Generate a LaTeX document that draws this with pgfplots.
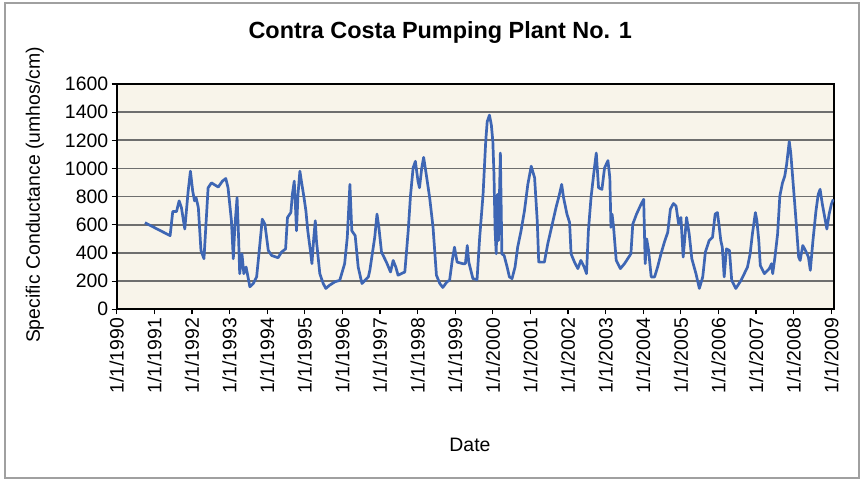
\documentclass[border=0pt]{standalone}
\usepackage{pgfplots}
\pgfplotsset{compat=1.18}
\usepackage{pgfplotstable}
\usepackage{fontspec}
\setmainfont{Liberation Sans}
\definecolor{plotbg}{RGB}{248,244,234}
\definecolor{lineblue}{RGB}{62,102,180}
\definecolor{gridgray}{RGB}{110,110,110}
\definecolor{framegray}{RGB}{160,160,160}
\pgfplotstableread{
year val
1990.75 615
1991.42 523
1991.49 694
1991.59 694
1991.66 770
1991.72 723
1991.81 570
1991.90 840
1991.96 981
1992.02 840
1992.07 770
1992.11 793
1992.17 723
1992.24 418
1992.32 359
1992.43 863
1992.52 898
1992.70 868
1992.81 910
1992.90 929
1992.96 863
1993.05 629
1993.10 359
1993.14 582
1993.20 793
1993.24 511
1993.27 253
1993.33 394
1993.38 253
1993.44 300
1993.54 160
1993.63 183
1993.72 230
1993.79 418
1993.87 640
1993.94 605
1994.03 418
1994.12 382
1994.29 366
1994.38 406
1994.49 429
1994.54 652
1994.63 687
1994.67 816
1994.72 910
1994.75 746
1994.78 558
1994.82 816
1994.87 981
1994.91 910
1994.98 793
1995.03 699
1995.08 558
1995.16 394
1995.19 324
1995.24 511
1995.28 629
1995.31 488
1995.40 253
1995.49 183
1995.56 148
1995.66 171
1995.80 195
1995.93 206
1996.06 324
1996.13 511
1996.20 887
1996.25 558
1996.34 523
1996.42 300
1996.52 183
1996.69 230
1996.73 277
1996.86 511
1996.92 676
1996.97 582
1997.04 406
1997.17 335
1997.28 265
1997.35 347
1997.42 300
1997.48 242
1997.66 265
1997.75 558
1997.81 805
1997.88 1004
1997.94 1051
1998.01 910
1998.05 863
1998.11 1004
1998.16 1079
1998.23 957
1998.32 793
1998.41 582
1998.50 242
1998.59 183
1998.67 155
1998.78 195
1998.85 206
1998.92 347
1998.98 441
1999.05 335
1999.20 324
1999.27 324
1999.32 453
1999.36 335
1999.47 218
1999.58 211
1999.65 511
1999.74 816
1999.81 1192
1999.85 1333
1999.91 1379
1999.96 1309
2000.00 1192
2000.03 957
2000.06 558
2000.09 394
2000.12 816
2000.15 488
2000.20 1110
2000.24 394
2000.30 382
2000.38 300
2000.44 230
2000.51 218
2000.59 300
2000.66 441
2000.75 558
2000.84 699
2000.93 887
2001.02 1016
2001.11 934
2001.18 629
2001.22 335
2001.37 335
2001.46 465
2001.55 570
2001.68 723
2001.77 816
2001.83 887
2001.88 793
2001.97 676
2002.04 617
2002.08 394
2002.17 335
2002.26 289
2002.34 347
2002.43 300
2002.49 253
2002.54 558
2002.61 793
2002.70 1004
2002.75 1110
2002.81 863
2002.90 852
2002.97 1004
2003.06 1056
2003.11 934
2003.14 582
2003.17 676
2003.21 582
2003.28 347
2003.39 289
2003.50 324
2003.67 394
2003.72 605
2003.82 676
2003.94 746
2004.01 781
2004.05 324
2004.09 500
2004.14 418
2004.21 230
2004.30 230
2004.38 300
2004.47 394
2004.56 476
2004.65 547
2004.72 711
2004.80 751
2004.87 734
2004.94 605
2005.00 652
2005.06 371
2005.15 652
2005.22 535
2005.29 359
2005.40 253
2005.49 148
2005.58 230
2005.65 406
2005.75 488
2005.84 511
2005.91 676
2005.97 687
2006.01 605
2006.06 488
2006.10 441
2006.15 230
2006.21 429
2006.29 418
2006.35 206
2006.46 148
2006.60 206
2006.77 300
2006.84 394
2006.90 535
2006.98 687
2007.02 629
2007.07 488
2007.11 312
2007.22 253
2007.35 289
2007.41 324
2007.44 253
2007.50 371
2007.57 535
2007.63 805
2007.70 898
2007.76 945
2007.81 1028
2007.88 1192
2007.92 1110
2008.02 770
2008.06 629
2008.13 371
2008.17 347
2008.24 453
2008.31 418
2008.39 371
2008.44 277
2008.51 488
2008.59 699
2008.65 816
2008.70 852
2008.76 746
2008.84 629
2008.88 570
2008.94 676
2009.00 746
2009.05 781
}\sctable
\begin{document}
\begin{tikzpicture}[x=1bp,y=1bp]
\useasboundingbox (0,0) rectangle (865,481);
\draw[framegray, line width=1.2bp] (5,3) rectangle (859,478);
\begin{axis}[
  at={(116.7bp,171.7bp)}, anchor=south west,
  scale only axis,
  width=717.3bp, height=225.3bp,
  xmin=1990, xmax=2009.07,
  ymin=0, ymax=1600,
  xtick={1990,...,2009},
  xticklabels={1/1/1990,1/1/1991,1/1/1992,1/1/1993,1/1/1994,1/1/1995,1/1/1996,1/1/1997,1/1/1998,1/1/1999,1/1/2000,1/1/2001,1/1/2002,1/1/2003,1/1/2004,1/1/2005,1/1/2006,1/1/2007,1/1/2008,1/1/2009},
  ytick={0,200,...,1600},
  /pgf/number format/.cd, 1000 sep={}, assume math mode=true,
  /pgfplots/.cd,
  tick align=outside,
  tick pos=left,
  major tick length=5bp,
  tick style={black, line width=1.2bp},
  ymajorgrids,
  grid style={gridgray, line width=1.7bp},
  axis line style={black, line width=2bp},
  axis background/.style={fill=plotbg},
  tick label style={font=\fontsize{19.5}{22}\selectfont},
  xticklabel style={rotate=90, anchor=east},
  title={Contra Costa Pumping Plant No. 1},
  title style={font=\fontsize{23.5}{27}\selectfont\bfseries, at={(axis description cs:0.451,1.204)}, anchor=center},
  xlabel={Date},
  xlabel style={font=\fontsize{19.5}{22}\selectfont, at={(axis description cs:0.4925,-0.602)}, anchor=center},
  ylabel={Specific Conductance (umhos/cm)},
  ylabel style={font=\fontsize{19.5}{22}\selectfont, at={(axis description cs:-0.114,0.507)}, anchor=center, rotate=0},
]
\addplot[lineblue, line width=2.7bp, line join=round] table[x=year,y=val]{\sctable};
\end{axis}
\end{tikzpicture}
\end{document}
